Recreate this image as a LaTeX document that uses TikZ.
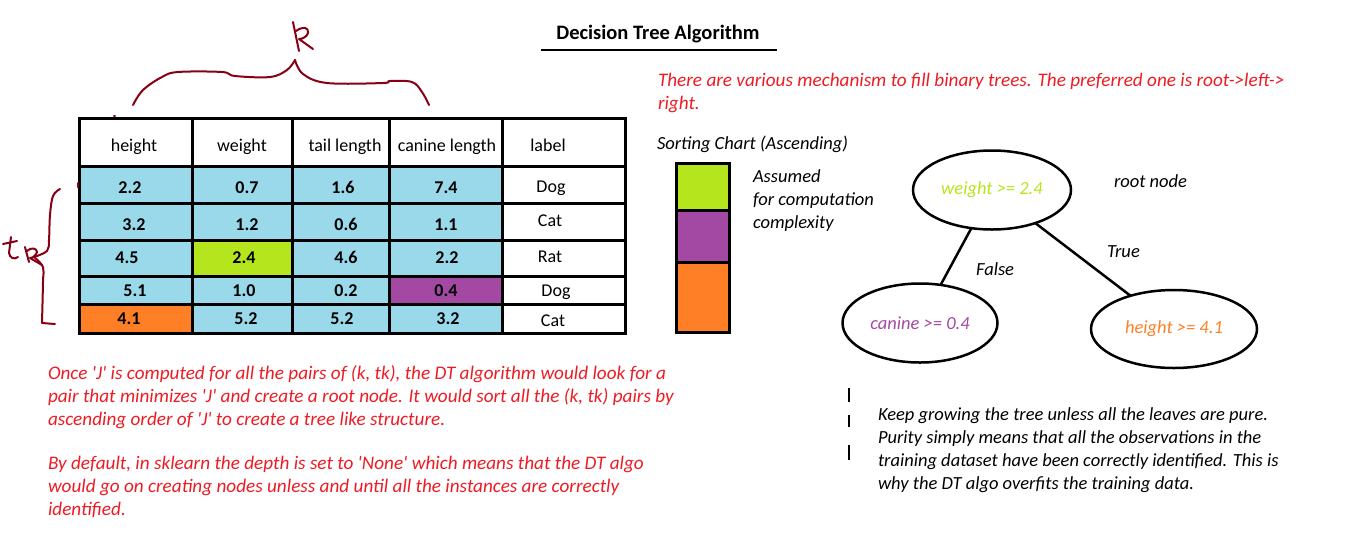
\documentclass[tikz,border=0pt]{standalone}
\usepackage{fontspec}
\setmainfont{Carlito}
\usetikzlibrary{shapes.geometric}
\usetikzlibrary{positioning}
\definecolor{cellblue}{HTML}{99D9EA}
\definecolor{lime}{HTML}{B5E61D}
\definecolor{plum}{HTML}{A349A4}
\definecolor{tangerine}{HTML}{FF7F27}
\definecolor{paintred}{HTML}{ED1C24}
\definecolor{inkred}{HTML}{880015}
\newcommand{\sq}{\textquotesingle}

\begin{document}
\begin{tikzpicture}[x=1pt, y=-1pt, every node/.style={inner sep=0pt, outer sep=0pt},
    grid/.style={line width=3pt},
    ink/.style={draw=inkred, line width=2pt, line cap=round, line join=round},
    hdr/.style={font=\fontsize{18}{22}\selectfont, anchor=base},
    num/.style={font=\fontsize{18}{22}\selectfont\bfseries, anchor=base},
    note/.style={font=\fontsize{18.5}{23}\selectfont\itshape, align=left, anchor=north west},
    rednote/.style={note, font=\fontsize{19.2}{23}\selectfont\itshape, text=paintred},
    test/.style={ellipse, draw, line width=2.5pt, font=\fontsize{18.5}{22}\selectfont\itshape}]
        \useasboundingbox (0,0) rectangle (1349,550);

        % Title
        \node[font=\fontsize{20.5}{24}\selectfont\bfseries, anchor=base] (title) at (658,39) {Decision Tree Algorithm};
        \draw[line width=2.5pt] (541,50) -- (777,50);

        % Cell colours of the table
        \fill[cellblue] (79,166) rectangle (502,333);
        \fill[lime] (192,240) rectangle (292,276);
        \fill[plum] (389,276) rectangle (502,304);
        \fill[tangerine] (79,304) rectangle (192,333);

        % Grid of the table
        \draw[grid] (79,118) rectangle (625,333);
        \foreach \x in {192,292,389,502}
          \draw[grid] (\x,118) -- (\x,333);
        \foreach \y in {166,203,240,276,304}
          \draw[grid] (79,\y) -- (625,\y);

        % Header row
        \foreach \x/\t [count=\i] in {134/height, 242/weight, 345/tail length, 447/canine length, 548/label}
          \node[hdr] (h\i) at (\x,151) {\t};

        % Values
        \foreach \x/\y/\t [count=\i] in {130/193/2.2, 247/193/0.7, 343/193/1.6, 446/193/7.4,
                                         134/230/3.2, 247/230/1.2, 346/230/0.6, 446/230/1.1,
                                         127/263/4.5, 244/263/2.4, 346/263/4.6, 447/263/2.2,
                                         135/296/5.1, 244/296/1.0, 346/296/0.2, 446/296/0.4,
                                         129/324/4.1, 246/324/5.2, 342/324/5.2, 448/324/3.2}
          \node[num] (v\i) at (\x,\y) {\t};

        % Labels
        \foreach \x/\y/\t [count=\i] in {551/192/Dog, 550/226/Cat, 550/262/Rat, 556/296/Dog, 553/326/Cat}
          \node[hdr] (l\i) at (\x,\y) {\t};

        % Hand drawn brace k
        \draw[ink] plot[smooth, tension=0.6] coordinates {(133,105) (143,90) (162,77) (178,72) (222,72) (235,76) (270,77) (287,70) (295,60)};
        \draw[ink] plot[smooth, tension=0.6] coordinates {(295,60) (303,74) (327,83) (383,83) (390,81) (412,82) (422,92) (429,105)};
        \draw[ink] (293,22) -- (299,51);
        \draw[ink] (296,31) .. controls (303,26) and (309,27) .. (308,33) .. controls (307,37) and (302,39) .. (299,39) -- (313,49);
        \draw[ink] (114,116) -- (115,116);

        % Hand drawn brace tk
        \draw[ink] plot[smooth, tension=0.6] coordinates {(60,189) (53,196) (50,215) (49,240) (47,251) (34,257)};
        \draw[ink] plot[smooth, tension=0.6] coordinates {(34,257) (43,267) (43,282) (42,323)} -- (55,324);
        \draw[ink] (78,183) -- (78,187);
        \draw[ink] (11,237) -- (9,253) .. controls (10,258) and (14,260) .. (18,257);
        \draw[ink] (3,244) -- (17,241);
        \draw[ink] (25,247) -- (29,262);
        \draw[ink] (27,251) .. controls (31,247) and (37,248) .. (37,252) .. controls (36,256) and (32,258) .. (30,258) -- (42,265);

        % Red notes
        \node[rednote] (intro) at (658,73) {There are various mechanism to fill binary trees. The preferred one is root->left->\\right.};
        \node[rednote] (once) at (48,365) {Once \sq J\sq{} is computed for all the pairs of (k, tk), the DT algorithm would look for a\\pair that minimizes \sq J\sq{} and create a root node. It would sort all the (k, tk) pairs by\\ascending order of \sq J\sq{} to create a tree like structure.};
        \node[rednote] (sklearn) at (48,456) {By default, in sklearn the depth is set to \sq None\sq{} which means that the DT algo\\would go on creating nodes unless and until all the instances are correctly\\identified.};

        % Sorting chart
        \node[note, anchor=base west] (sorttitle) at (657,149) {Sorting Chart (Ascending)};
        \fill[lime] (676,163) rectangle (729,210);
        \fill[plum] (676,210) rectangle (729,262);
        \fill[tangerine] (676,262) rectangle (729,332);
        \draw[grid] (676,163) rectangle (729,332);
        \draw[grid] (676,210) -- (729,210);
        \draw[grid] (676,262) -- (729,262);
        \node[note] (assumed) at (753,170) {Assumed\\for computation\\complexity};

        % Tree
        \node[test, minimum width=158pt, minimum height=79pt, text=lime] (root) at (992,190) {weight >= 2.4};
        \node[test, minimum width=155pt, minimum height=79pt, text=plum] (left) at (920,323) {canine >= 0.4};
        \node[test, minimum width=166pt, minimum height=78pt, text=tangerine] (right) at (1174,329) {height >= 4.1};
        \draw[line width=2.5pt] (root) -- (left);
        \draw[line width=2.5pt] (root) -- (right);
        \node[note, anchor=base west] (rootlbl) at (1114,187) {root node};
        \node[note, anchor=base west] (false) at (976,275) {False};
        \node[note, anchor=base west] (true) at (1107,257) {True};

        % Ticks and closing note
        \foreach \a/\b in {388/402, 415/427, 445/460}
          \draw[line width=2pt] (849,\a) -- (849,\b);
        \node[note] (pure) at (878,408) {Keep growing the tree unless all the leaves are pure.\\Purity simply means that all the observations in the\\training dataset have been correctly identified. This is\\why the DT algo overfits the training data.};
      \end{tikzpicture}
\end{document}
